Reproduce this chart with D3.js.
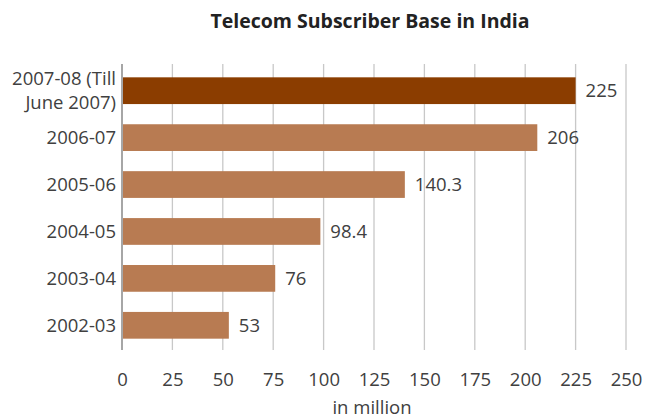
<!DOCTYPE html>
<html>
<head>
<meta charset="utf-8">
<script src="https://cdn.jsdelivr.net/npm/d3@7"></script>
<style>
  body { margin: 0; background: #fff; }
  text { font-family: "Open Sans", "Noto Sans", sans-serif; fill: #404040; }
</style>
</head>
<body>
<div id="canvas"></div>
<script>
const categories = ["2007-08 (Till June 2007)", "2006-07", "2005-06", "2004-05", "2003-04", "2002-03"]
const values = [225, 206, 140.3, 98.4, 76, 53]
const labels = ["225", "206", "140.3", "98.4", "76", "53"]
const xTicks = [0, 25, 50, 75, 100, 125, 150, 175, 200, 225, 250]

const width = 655
const height = 420
const margin = { top: 64, left: 122, bottom: 70, right: 29 }
const iwidth = width - margin.left - margin.right
const iheight = height - margin.top - margin.bottom
const fs = "18.5px"

const svg = d3.select("#canvas").append("svg")
    .attr("width", width)
    .attr("height", height)

svg.append("text")
    .attr("x", 370)
    .attr("y", 28)
    .attr("text-anchor", "middle")
    .style("font-size", "19.5px")
    .style("font-weight", "bold")
    .style("fill", "#222")
    .text("Telecom Subscriber Base in India")

const g = svg.append("g")
    .attr("transform", `translate(${margin.left}, ${margin.top})`)

const x = d3.scaleLinear()
    .domain([0, 250])
    .range([0, iwidth])

const y = d3.scaleBand()
    .domain(categories)
    .range([3, iheight - 1])
    .paddingInner(0.43)
    .paddingOuter(0.22)

// gridlines
g.append("g")
    .selectAll("line")
    .data(xTicks.slice(1))
    .join("line")
    .attr("x1", d => x(d))
    .attr("x2", d => x(d))
    .attr("y1", 0)
    .attr("y2", iheight)
    .style("stroke", "#c8c8c8")
    .style("stroke-width", 1.3)

g.append("line")
    .attr("x1", 0).attr("x2", 0)
    .attr("y1", 0).attr("y2", iheight)
    .style("stroke", "#a6a6a6")
    .style("stroke-width", 2)

g.selectAll("rect.bar")
    .data(values)
    .join("rect")
    .attr("class", "bar")
    .attr("x", 1)
    .attr("y", (d, i) => y(categories[i]))
    .attr("width", d => x(d) - 1)
    .attr("height", y.bandwidth())
    .style("fill", (d, i) => i === 0 ? "#8b3d00" : "#b87b52")

g.selectAll("text.val")
    .data(values)
    .join("text")
    .attr("class", "val")
    .attr("x", d => x(d) + 10)
    .attr("y", (d, i) => y(categories[i]) + y.bandwidth() / 2)
    .attr("dy", "0.35em")
    .style("font-size", fs)
    .text((d, i) => labels[i])

// category labels
const catG = g.append("g")
categories.forEach((c, i) => {
    const cy = y(c) + y.bandwidth() / 2
    const t = catG.append("text")
        .attr("x", -6)
        .attr("text-anchor", "end")
        .style("font-size", fs)
    if (i === 0) {
        t.append("tspan").attr("x", -6).attr("y", cy - 12).attr("dy", "0.35em").text("2007-08 (Till")
        t.append("tspan").attr("x", -6).attr("y", cy + 12).attr("dy", "0.35em").text("June 2007)")
    } else {
        t.attr("y", cy).attr("dy", "0.35em").text(c)
    }
})

const xAxis = g.append("g")
    .attr("transform", `translate(0, ${iheight})`)
    .call(d3.axisBottom(x).tickValues(xTicks).tickSize(0).tickPadding(23))
xAxis.select(".domain").remove()
xAxis.selectAll("text")
    .style("font-size", fs)
    .style("font-family", "'Open Sans', 'Noto Sans', sans-serif")
    .style("fill", "#404040")

svg.append("text")
    .attr("x", 372)
    .attr("y", 414)
    .attr("text-anchor", "middle")
    .style("font-size", fs)
    .text("in million")
</script>
</body>
</html>
